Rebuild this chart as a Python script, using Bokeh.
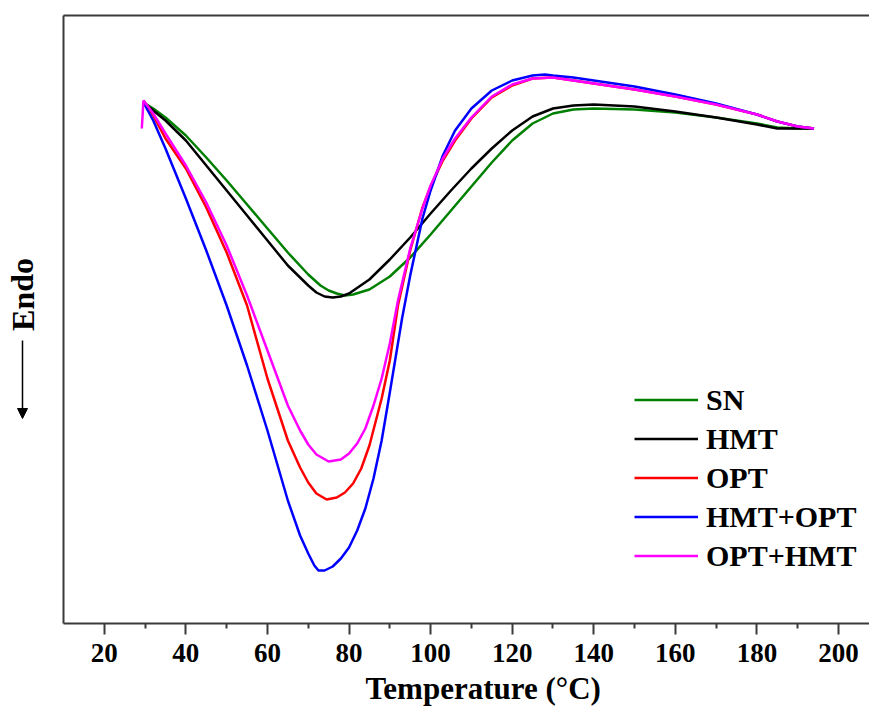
from bokeh.plotting import figure
from bokeh.layouts import row
from bokeh.models import (Range1d, FixedTicker, LinearAxis, Label, Arrow, Title,
                          NormalHead, Legend, LegendItem)
from bokeh.embed import file_html
from bokeh.resources import INLINE

# DSC thermograms (heat flow, arbitrary depth units; larger = more endothermic, drawn downward)
x_sn = [29.6, 32, 35, 40, 45, 50, 55, 60, 65, 70, 73, 75, 77, 79, 81, 85, 90, 95, 100, 105,
        110, 115, 120, 125, 130, 135, 140, 150, 160, 170, 180, 185, 190, 194]
sn = [102, 108, 117, 135, 157, 180, 204, 228, 252, 274, 285, 290, 293, 295, 294, 289, 276,
      257, 234, 210, 186, 162, 140, 123, 113, 109, 108, 109, 112, 117, 123, 127, 128, 128]

x_hmt = [29.6, 32, 35, 40, 45, 50, 55, 60, 65, 70, 72, 74, 76, 78, 80, 85, 90, 95, 100, 105,
         110, 115, 120, 125, 130, 135, 140, 150, 160, 170, 180, 185, 190, 194]
hmt = [102, 110, 120, 140, 165, 190, 215, 240, 265, 285, 292, 296, 297, 296, 293, 279, 259,
       237, 213, 190, 168, 148, 130, 116, 108, 105, 104, 106, 111, 117, 124, 128, 128, 128]

x_opt = [29.6, 32, 35, 40, 45, 50, 55, 60, 65, 68, 70, 72, 74.5, 77, 79, 81, 83, 85, 88, 90,
         92, 95, 98, 100, 103, 106, 110, 115, 120, 125, 130, 140, 150, 160, 170, 180, 185,
         190, 194]
opt = [100, 115, 138, 168, 207, 252, 305, 378, 440, 467, 482, 493, 499, 497, 492, 483, 468,
       445, 398, 360, 305, 250, 207, 186, 160, 140, 118, 97, 85, 78, 77, 83, 89, 96, 104, 114,
       121, 126, 128]

x_hmt_opt = [29.6, 32, 35, 40, 45, 50, 55, 60, 65, 68, 70, 71.5, 72.5, 74, 76, 78, 80, 82,
             84, 86, 88, 90, 93, 95, 98, 100, 103, 106, 110, 115, 120, 125, 128, 130, 135,
             140, 150, 160, 170, 180, 185, 190, 194]
hmt_opt = [102, 120, 148, 198, 250, 305, 365, 430, 500, 535, 553, 565, 570, 570, 566, 558,
           547, 530, 508, 478, 440, 392, 318, 275, 218, 190, 155, 130, 108, 90, 80, 75, 74,
           75, 77, 80, 86, 94, 103, 114, 121, 126, 128]

x_opt_hmt = [29.2, 29.6, 32, 35, 40, 45, 50, 55, 60, 65, 68, 70, 72, 75, 78, 80, 82, 84, 86,
             88, 90, 92, 95, 98, 100, 103, 106, 110, 115, 120, 125, 130, 140, 150, 160, 170,
             180, 185, 190, 194]
opt_hmt = [128, 100, 113, 133, 165, 202, 245, 295, 350, 405, 430, 444, 454, 461, 459, 453,
           443, 428, 405, 378, 343, 300, 248, 208, 185, 158, 138, 117, 96, 84, 78, 77, 83, 89,
           96, 104, 114, 121, 126, 128]

series = [("SN", x_sn, sn, "#008000"),
          ("HMT", x_hmt, hmt, "#000000"),
          ("OPT", x_opt, opt, "#ff0000"),
          ("HMT+OPT", x_hmt_opt, hmt_opt, "#0000ff"),
          ("OPT+HMT", x_opt_hmt, opt_hmt, "#ff00ff")]

major_ticks = [20, 40, 60, 80, 100, 120, 140, 160, 180, 200]
minor_ticks = [30, 50, 70, 90, 110, 130, 150, 170, 190]

FONT = "Liberation Serif"
AXC = "#3a3a3a"
LEFT_W = 45

# ---- narrow side panel holding the "Endo" label and arrow (frame aligned with main) ----
side = figure(width=LEFT_W, height=715, x_range=Range1d(0, LEFT_W), y_range=Range1d(623, 15),
              output_backend="svg", toolbar_location=None, min_border=0,
              x_axis_location=None, y_axis_location=None)
side.outline_line_color = None
side.grid.visible = False
side.add_layout(Label(x=22, y=294, text="Endo", angle=1.5708, text_font=FONT,
                      text_font_style="bold", text_font_size="32px", text_color="black",
                      text_align="center", text_baseline="middle"))
side.add_layout(Arrow(x_start=22, y_start=340, x_end=22, y_end=418, line_width=1.5,
                      line_color="black",
                      end=NormalHead(size=10, fill_color="black", line_color="black")))

# ---- main plot ----
p = figure(width=869 - LEFT_W, height=715, x_range=Range1d(10, 207.6),
           y_range=Range1d(623, 15), output_backend="svg", toolbar_location=None,
           min_border_left=63 - LEFT_W, min_border_right=0, min_border_top=15,
           min_border_bottom=92)
p.outline_line_color = None
p.grid.visible = False

ax = p.xaxis[0]
ax.ticker = FixedTicker(ticks=major_ticks, minor_ticks=minor_ticks)
ax.axis_line_color = AXC
ax.axis_line_width = 2
ax.major_tick_line_color = AXC
ax.major_tick_line_width = 2
ax.minor_tick_line_color = AXC
ax.minor_tick_line_width = 2
ax.major_tick_out = 11
ax.major_tick_in = 0
ax.minor_tick_out = 5
ax.minor_tick_in = 0
ax.major_label_text_font = FONT
ax.major_label_text_font_style = "bold"
ax.major_label_text_font_size = "27px"
ax.major_label_text_color = "black"
ax.major_label_standoff = 9

p.add_layout(Title(text="Temperature (°C)", align="left", offset=302, standoff=8,
                   text_font=FONT, text_font_style="bold", text_font_size="31px",
                   text_color="black"), "below")

ay = p.yaxis[0]
ay.ticker = FixedTicker(ticks=[])
ay.major_label_text_font_size = "0px"
ay.major_label_standoff = 0
ay.major_tick_out = 0
ay.major_tick_in = 0
ay.minor_tick_out = 0
ay.minor_tick_in = 0
ay.axis_line_color = AXC
ay.axis_line_width = 2

top = LinearAxis(ticker=FixedTicker(ticks=[]), major_label_text_font_size="0px",
                 major_label_standoff=0,
                 major_tick_out=0, major_tick_in=0, minor_tick_out=0, minor_tick_in=0,
                 axis_line_color=AXC, axis_line_width=2)
p.add_layout(top, "above")

items = []
for name, xs, ys, col in series:
    r = p.line(xs, ys, line_color=col, line_width=2.5)
    items.append(LegendItem(label=name, renderers=[r]))

leg = Legend(items=items, location=(571, 48), glyph_width=64, glyph_height=39,
             label_height=39, spacing=0, padding=0, margin=0, label_standoff=8,
             border_line_color=None, background_fill_alpha=0,
             label_text_font=FONT, label_text_font_style="bold",
             label_text_font_size="30px", label_text_color="black")
p.add_layout(leg)

layout = row(side, p, spacing=0)
open("out.html", "w").write(file_html(layout, INLINE))
